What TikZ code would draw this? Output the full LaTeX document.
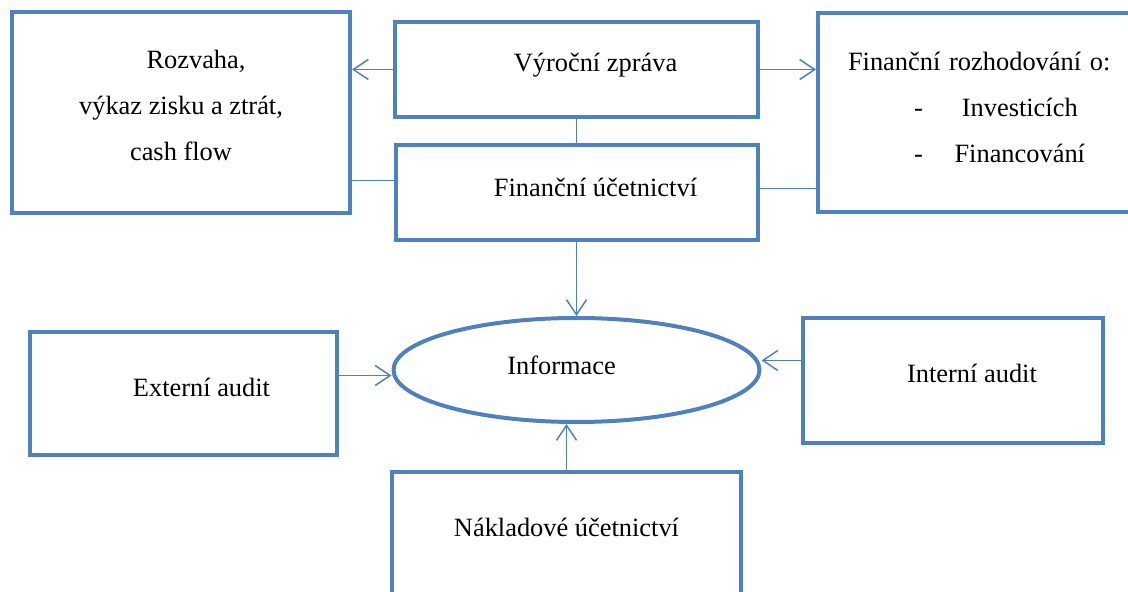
\documentclass[tikz,border=0pt]{standalone}
\usepackage{fontspec}
\setmainfont{Liberation Serif}
\usepackage{tikz}
\usetikzlibrary{positioning}
\usetikzlibrary{shapes.geometric}
\usetikzlibrary{arrows.meta}
\definecolor{boxblue}{RGB}{79,129,189}

\begin{document}
\begin{tikzpicture}[
  x=0.5pt, y=-0.5pt,
  font=\fontsize{13.2}{23}\selectfont,
  box/.style={draw=boxblue, line width=2pt, align=center},
  oval/.style={draw=boxblue, line width=2pt, ellipse, inner sep=0pt},
  link/.style={draw=boxblue, line width=0.75pt},
  arrow/.style={link, -{Straight Barb[length=7.5pt, width=10pt]}}
]
\useasboundingbox (0,0) rectangle (1128,592);
\clip (0,0) rectangle (1128,592);

\node[box, minimum width=169pt, minimum height=100.5pt] (rozvaha) at (181,112.5) {\hspace*{15pt}Rozvaha,\\výkaz zisku a ztrát,\\cash flow\\[-16pt]\mbox{}};
\node[box, minimum width=181.5pt, minimum height=47.5pt] (vyr) at (576.5,69.5) {\raisebox{2pt}[\height][\depth]{\hspace*{19pt}Výroční zpráva}};
\node[box, minimum width=181pt, minimum height=47.5pt, below=12pt of vyr] (fin) {\raisebox{2.5pt}[\height][\depth]{\hspace*{19pt}Finanční účetnictví}};
\node[box, minimum height=99.5pt, text width=150pt, inner xsep=5.5pt, align=left] (rozhod) at (979,112.5) {\hspace*{9.5pt}Finanční rozhodování o:\\\hspace*{42.5pt}-\makebox[97pt]{Investicích}\\\hspace*{42.5pt}-\makebox[97pt]{Financování}\\[-17.5pt]\mbox{}};

\node[oval, minimum width=183pt, minimum height=52pt, below=37pt of fin] (info) {\raisebox{2.5pt}[\height][\depth]{Informace}\hspace*{15pt}};
\node[box, minimum width=153.5pt, minimum height=61.5pt] (ext) at (183.5,393.5) {\raisebox{3pt}[\height][\depth]{\hspace*{18pt}Externí audit}};
\node[box, minimum width=150pt, minimum height=62.5pt] (int) at (953,380.5) {\raisebox{3.75pt}[\height][\depth]{\hspace*{19pt}Interní audit}};
\node[box, minimum width=174.5pt, minimum height=64pt, below=23pt of info, xshift=-5pt] (nak) {\raisebox{4.25pt}[\height][\depth]{Nákladové účetnictví}};

% top row
\draw[arrow] (vyr.west) -- (vyr.west -| rozvaha.east);
\draw[arrow] (vyr.east) -- (vyr.east -| rozhod.west);
\draw[link] (vyr) -- (fin);
\coordinate (finl) at ([yshift=6pt]fin.west);
\coordinate (finr) at ([yshift=2pt]fin.east);
\draw[link] (finl) -- (finl -| rozvaha.east);
\draw[link] (finr) -- (finr -| rozhod.west);

% into Informace
\draw[arrow] (fin) -- (info);
\coordinate (exto) at ([yshift=9pt]ext.east);
\draw[arrow] (exto) -- (exto -| info.west);
\coordinate (into) at ([yshift=10pt]int.west);
\draw[arrow] (into) -- (into -| info.east);
\draw[arrow] (nak) -- (nak |- info.south);

\end{tikzpicture}
\end{document}
